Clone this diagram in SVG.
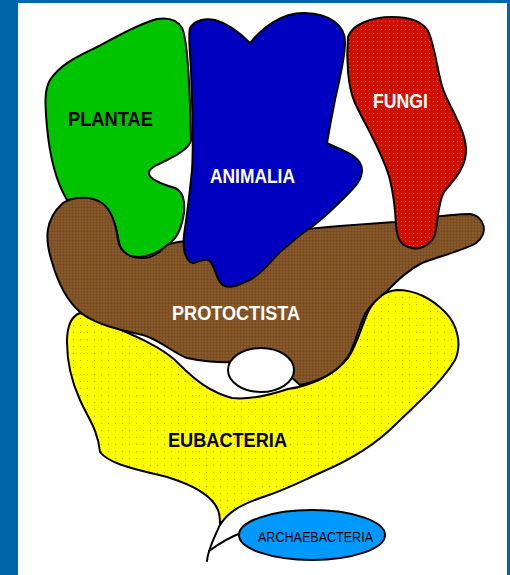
<svg xmlns="http://www.w3.org/2000/svg" width="510" height="575" viewBox="0 0 510 575">
<style>
.blob{stroke:#000;stroke-width:2;stroke-linejoin:round}
.lbl{font-family:"Liberation Sans",Arial,sans-serif;font-weight:bold;font-size:20px}
.w{fill:#fff}
.k{fill:#000}
.con{fill:none;stroke:#000;stroke-width:2;stroke-linecap:round}
</style>
<defs>
<pattern id="pY" width="7" height="7" patternUnits="userSpaceOnUse">
<rect width="7" height="7" fill="#ffff00"/>
<rect x="3" y="3" width="1" height="1" fill="#c8a000"/>
</pattern>
<pattern id="pR" width="4" height="4" patternUnits="userSpaceOnUse">
<rect width="4" height="4" fill="#cc1100"/>
<rect x="1" y="1" width="1" height="1" fill="#ee5500"/>
</pattern>
<pattern id="pB" width="3" height="3" patternUnits="userSpaceOnUse">
<rect width="3" height="3" fill="#8b5a2b"/>
<rect x="0" y="0" width="3" height="1" fill="#7a4e24"/>
<rect x="0" y="0" width="1" height="3" fill="#7a4e24"/>
</pattern>
</defs>
<rect x="0" y="0" width="510" height="575" fill="#fff"/>
<g id="frame" fill="#0066aa">
<rect x="0" y="0" width="18" height="575"/>
<rect x="0" y="0" width="510" height="3"/>
<rect x="507" y="0" width="3" height="575"/>
</g>
<g id="eubacteria">
<path class="blob" fill="url(#pY)" d="M 80,313 C 72,316 67,325 67,342 C 67,360 70,378 80,400 C 88,418 98,430 100,452 C 110,465 140,470 167,477 C 190,484 212,495 218,510 C 220,515 220,520 220,525 C 228,512 240,505 263,497 C 285,490 300,482 322,472 C 350,460 375,445 395,425 C 415,405 440,385 455,360 C 462,345 458,325 445,312 C 430,297 415,290 397,290 C 385,291 375,298 368,312 C 362,325 357,345 348,358 C 335,375 310,386 288,389 C 270,395 250,400 232,398 C 210,392 195,380 180,365 C 165,348 135,335 80,313 Z"/>
<text class="lbl k" x="168" y="447" textLength="119" lengthAdjust="spacingAndGlyphs">EUBACTERIA</text>
</g>
<g id="plantae">
<path class="blob" fill="#00c400" d="M 157,19 C 170,17 178,21 182,28 C 188,40 190,90 191,140 C 190,147 178,155 167,160 C 157,165 148,168 149,174 C 150,180 165,185 175,188 C 183,192 185,200 184,213 C 182,225 180,232 175,238 C 168,246 158,255 140,257 C 125,258 120,250 118,238 C 115,220 110,210 100,203 C 90,198 78,198 67,200 C 58,185 50,160 47,127 C 45,105 44,90 50,80 C 60,64 80,55 97,47 C 115,38 135,25 157,19 Z"/>
<text class="lbl k" x="68" y="126" textLength="85" lengthAdjust="spacingAndGlyphs">PLANTAE</text>
</g>
<g id="protoctista">
<path class="blob" fill="url(#pB)" d="M 63,203 C 72,197 90,195 102,203 C 112,210 116,225 118,240 C 120,252 130,259 145,258 C 156,257 162,249 167,245 C 172,243 178,242 186,241 L 300,230 C 320,227 350,225 395,222 C 420,219 450,214 470,214 C 485,216 489,234 476,243 C 465,250 440,256 422,263 C 408,270 398,280 388,290 C 378,298 370,305 365,314 C 360,325 356,340 350,353 C 342,368 325,380 300,385 C 285,370 260,358 232,362 C 220,363 200,361 187,358 C 175,354 160,340 143,335 C 125,331 95,325 80,312 C 72,305 60,290 52,262 C 45,240 44,220 63,203 Z"/>
<text class="lbl w" x="172" y="320" textLength="128" lengthAdjust="spacingAndGlyphs">PROTOCTISTA</text>
</g>
<g id="animalia">
<path class="blob" fill="#0000c0" d="M 190,28 C 195,20 205,18 215,20 C 230,24 242,35 250,43 C 262,28 282,12 305,13 C 330,14 345,25 345,42 C 345,60 338,85 335,100 C 332,115 330,125 327,143 C 340,150 362,155 362,170 C 362,180 355,187 347,195 C 337,205 322,220 310,228 C 298,236 290,244 280,252 C 270,262 258,278 245,282 C 235,287 225,290 220,282 C 215,275 214,262 208,260 C 200,258 195,266 190,262 C 183,255 183,245 184,235 C 187,215 190,190 192,170 C 194,140 192,100 191,70 C 190,50 188,35 190,28 Z"/>
<text class="lbl w" x="210" y="183" textLength="85" lengthAdjust="spacingAndGlyphs">ANIMALIA</text>
</g>
<g id="fungi">
<path class="blob" fill="url(#pR)" d="M 348,37 C 352,25 370,17 392,17 C 410,17 424,22 429,33 C 435,48 437,68 442,86 C 448,106 464,125 466,148 C 467,168 452,182 444,192 C 438,202 438,222 435,234 C 432,245 420,250 412,248 C 400,246 397,238 396,225 C 395,205 393,192 390,180 C 384,155 365,125 355,103 C 348,88 346,60 348,37 Z"/>
<text class="lbl w" x="373" y="108" textLength="55" lengthAdjust="spacingAndGlyphs">FUNGI</text>
</g>
<g id="hole">
<ellipse cx="261" cy="370" rx="33" ry="22" fill="#fff" stroke="#000" stroke-width="2"/>
</g>
<g id="connectors">
<path class="con" d="M 221,522 C 216,535 208,548 207,561"/>
<path class="con" d="M 209,551 C 220,543 230,537 241,533"/>
</g>
<g id="archaebacteria">
<ellipse cx="312" cy="535" rx="73" ry="25" fill="#0099ff" stroke="#000" stroke-width="2"/>
<text x="258" y="542" font-family="'Liberation Sans',Arial,sans-serif" font-size="15" fill="#000" textLength="115" lengthAdjust="spacingAndGlyphs">ARCHAEBACTERIA</text>
</g>
</svg>
